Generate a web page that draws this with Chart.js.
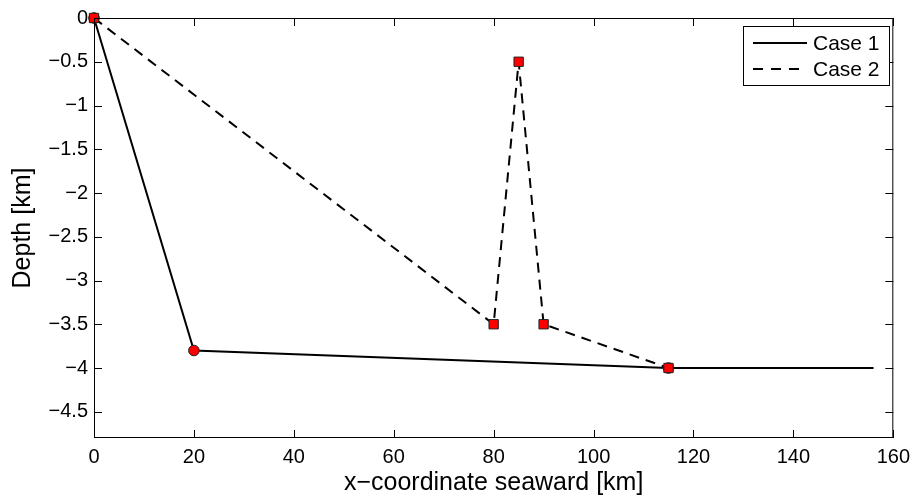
<!DOCTYPE html>
<html>
<head>
<meta charset="utf-8">
<script src="https://cdn.jsdelivr.net/npm/chart.js@4"></script>
<style>
  html, body { margin: 0; padding: 0; background: #fff; }
  #wrap { width: 917px; height: 498px; }
</style>
</head>
<body>
<div id="wrap"><canvas id="myChart" width="917" height="498"></canvas></div>
<script>
// profile data
var case1X = [0, 20, 115, 156];
var case1Y = [0, -3.8, -4, -4];
var case2X = [0, 80, 85, 90, 115, 156];
var case2Y = [0, -3.5, -0.5, -3.5, -4, -4];
var xTicks = [0, 20, 40, 60, 80, 100, 120, 140, 160];
var yTicks = [0, -0.5, -1, -1.5, -2, -2.5, -3, -3.5, -4, -4.5];
var labels = ['Case 1', 'Case 2'];

function pts(xs, ys) {
  return xs.map(function (x, i) { return {x: x, y: ys[i]}; });
}

var FONT = 'Liberation Sans';

// box + inward ticks, matlab style
var boxPlugin = {
  id: 'box',
  afterDraw: function (chart) {
    var ctx = chart.ctx, a = chart.chartArea;
    var xs = chart.scales.x, ys = chart.scales.y;
    ctx.save();
    ctx.strokeStyle = '#000';
    ctx.lineWidth = 1;
    ctx.strokeRect(a.left + 0.5, a.top + 0.5, a.right - a.left - 1, a.bottom - a.top - 1);
    ctx.beginPath();
    xTicks.forEach(function (v) {
      var px = Math.round(xs.getPixelForValue(v)) + 0.5;
      ctx.moveTo(px, a.bottom); ctx.lineTo(px, a.bottom - 8);
      ctx.moveTo(px, a.top); ctx.lineTo(px, a.top + 8);
    });
    yTicks.forEach(function (v) {
      var py = Math.round(ys.getPixelForValue(v)) + 0.5;
      ctx.moveTo(a.left, py); ctx.lineTo(a.left + 8, py);
      ctx.moveTo(a.right, py); ctx.lineTo(a.right - 8, py);
    });
    ctx.stroke();

    // legend box
    var lx = 743, ly = 26, lw = 146, lh = 59;
    ctx.fillStyle = '#fff';
    ctx.fillRect(lx, ly, lw, lh);
    ctx.strokeRect(lx + 0.5, ly + 0.5, lw, lh);
    ctx.font = '21px "' + FONT + '"';
    ctx.fillStyle = '#000';
    ctx.textBaseline = 'middle';
    ctx.lineWidth = 2;
    labels.forEach(function (t, i) {
      var cy = ly + 17 + i * 26;
      ctx.setLineDash(i === 0 ? [] : [10, 8]);
      ctx.beginPath();
      ctx.moveTo(lx + 10, cy); ctx.lineTo(lx + 64, cy);
      ctx.stroke();
      ctx.setLineDash([]);
      ctx.fillText(t, lx + 70, cy + 1);
    });
    ctx.restore();
  }
};

new Chart('myChart', {
  type: 'scatter',
  data: {
    datasets: [
      {
        label: labels[1],
        data: pts(case2X, case2Y),
        showLine: true,
        borderColor: '#000',
        borderWidth: 2,
        borderDash: [10, 7],
        pointStyle: 'rect',
        pointRadius: [6.6, 6.6, 6.6, 6.6, 6.6, 0],
        pointBackgroundColor: '#ff0000',
        pointBorderColor: '#222',
        pointBorderWidth: 1,
        order: 1
      },
      {
        label: labels[0],
        data: pts(case1X, case1Y),
        showLine: true,
        borderColor: '#000',
        borderWidth: 2,
        pointStyle: 'circle',
        pointRadius: [5.3, 5.3, 5.3, 0],
        pointBackgroundColor: '#ff0000',
        pointBorderColor: '#222',
        pointBorderWidth: 1,
        order: 2
      }
    ]
  },
  options: {
    responsive: false,
    animation: false,
    clip: false,
    layout: { padding: { top: 16, right: 19, left: 0, bottom: 0 } },
    plugins: { legend: { display: false }, tooltip: { enabled: false } },
    scales: {
      x: {
        type: 'linear',
        min: 0, max: 160,
        grid: { display: false, drawTicks: false },
        border: { display: false },
        afterBuildTicks: function (s) { s.ticks = xTicks.map(function (v) { return {value: v}; }); },
        afterFit: function (s) { s.height = 60; },
        ticks: { color: '#000', padding: 7, maxRotation: 0, font: { family: FONT, size: 20 } },
        title: { display: true, text: 'x\u2212coordinate seaward [km]', color: '#000',
                 font: { family: FONT, size: 25 }, padding: { top: 0, bottom: 0 } }
      },
      y: {
        type: 'linear',
        min: -4.8, max: 0,
        grid: { display: false, drawTicks: false },
        border: { display: false },
        afterBuildTicks: function (s) { s.ticks = yTicks.map(function (v) { return {value: v}; }); },
        afterFit: function (s) { s.width = 94; },
        ticks: {
          color: '#000', padding: 6, font: { family: FONT, size: 20 },
          callback: function (v) { return String(v).replace('-', '\u2212'); }
        },
        title: { display: true, text: 'Depth [km]', color: '#000',
                 font: { family: FONT, size: 25 }, padding: { top: 8, bottom: 0 } }
      }
    }
  },
  plugins: [boxPlugin]
});
</script>
</body>
</html>
